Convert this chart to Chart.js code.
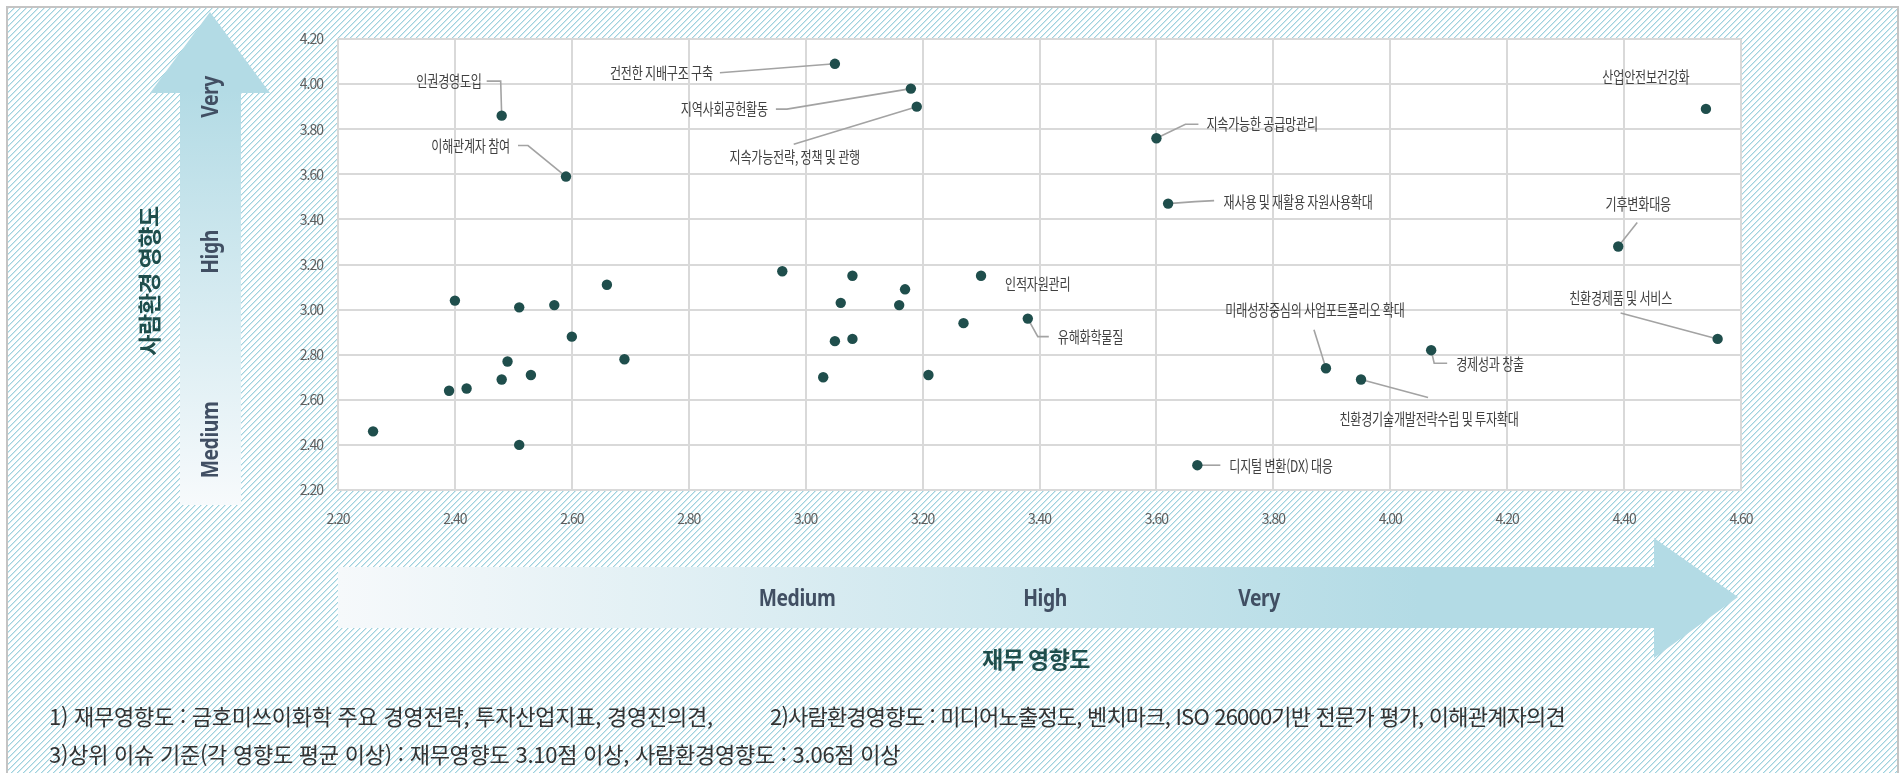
<!DOCTYPE html>
<html lang="ko">
<head>
<meta charset="utf-8">
<title>중대성 평가 결과</title>
<script src="https://cdn.jsdelivr.net/npm/chart.js@4.4.1/dist/chart.umd.min.js"></script>
<style>
  html, body { margin: 0; padding: 0; background: #fff; width: 1904px; height: 773px; overflow: hidden; }
  #frame {
    position: absolute; left: 6px; top: 6px; width: 1889px; height: 820px;
    border: 2px solid #c4c4c4; background-color: #fff;
  }
  #chart { position: absolute; left: 0; top: 0; }
  .note {
    position: absolute; font-family: "Noto Sans CJK KR", "Noto Sans", sans-serif;
    font-size: 22px; line-height: 26px; color: #333; white-space: pre; letter-spacing: -0.25px;
  }
</style>
</head>
<body>
<div id="frame"></div>
<canvas id="chart" width="1904" height="773"></canvas>
<div class="note" id="note1a" style="left:49px; top:702px;"></div>
<div class="note" id="note1b" style="left:770px; top:702px; letter-spacing:-0.8px;"></div>
<div class="note" id="note2" style="left:49px; top:740px;"></div>
<script>
// Issue names ('' = issue drawn without a name tag)
const issueNames = [
  '인권경영도입', '이해관계자 참여', '건전한 지배구조 구축', '지역사회공헌활동',
  '지속가능전략, 정책 및 관행', '지속가능한 공급망관리', '재사용 및 재활용 자원사용확대',
  '인적자원관리', '유해화학물질', '미래성장중심의 사업포트폴리오 확대',
  '친환경기술개발전략수립 및 투자확대', '경제성과 창출', '친환경제품 및 서비스',
  '디지털 변환(DX) 대응', '산업안전보건강화', '기후변화대응',
  '', '', '', '', '', '', '', '', '', '', '', '', '',
  '', '', '', '', '', '', '', '', '', ''
];
// 재무 영향도 (x)
const financialImpact = [
  2.48, 2.59, 3.05, 3.18, 3.19, 3.60, 3.62, 3.30, 3.38, 3.89, 3.95, 4.07, 4.56, 3.67, 4.54, 4.39,
  2.26, 2.40, 2.39, 2.42, 2.48, 2.49, 2.51, 2.51, 2.53, 2.57, 2.60, 2.66, 2.69,
  2.96, 3.08, 3.17, 3.06, 3.16, 3.27, 3.05, 3.08, 3.03, 3.21
];
// 사람환경 영향도 (y)
const socialImpact = [
  3.86, 3.59, 4.09, 3.98, 3.90, 3.76, 3.47, 3.15, 2.96, 2.74, 2.69, 2.82, 2.87, 2.31, 3.89, 3.28,
  2.46, 3.04, 2.64, 2.65, 2.69, 2.77, 3.01, 2.40, 2.71, 3.02, 2.88, 3.11, 2.78,
  3.17, 3.15, 3.09, 3.03, 3.02, 2.94, 2.86, 2.87, 2.70, 2.71
];
const xTickValues = [2.2, 2.4, 2.6, 2.8, 3.0, 3.2, 3.4, 3.6, 3.8, 4.0, 4.2, 4.4, 4.6];
const yTickValues = [2.2, 2.4, 2.6, 2.8, 3.0, 3.2, 3.4, 3.6, 3.8, 4.0, 4.2];
const levelLabels = ['Medium', 'High', 'Very'];
const xAxisTitle = '재무 영향도';
const yAxisTitle = '사람환경 영향도';
const footnotes = [
  '1) 재무영향도 : 금호미쓰이화학 주요 경영전략, 투자산업지표, 경영진의견,',
  '2)사람환경영향도 : 미디어노출정도, 벤치마크, ISO 26000기반 전문가 평가, 이해관계자의견',
  '3)상위 이슈 기준(각 영향도 평균 이상) : 재무영향도 3.10점 이상, 사람환경영향도 : 3.06점 이상'
];

document.getElementById('note1a').textContent = footnotes[0];
document.getElementById('note1b').textContent = footnotes[1];
document.getElementById('note2').textContent = footnotes[2];

// Diagonal hatch for the panel background, built pixel by pixel
(function () {
  const tile = document.createElement('canvas');
  tile.width = 6; tile.height = 6;
  const t = tile.getContext('2d');
  t.fillStyle = '#ffffff';
  t.fillRect(0, 0, 6, 6);
  for (let y = 0; y < 6; y++) {
    const x = (5 - y + 6) % 6;
    t.fillStyle = '#9fd2de';
    t.fillRect(x, y, 1, 1);
    t.fillStyle = '#d2eaf0';
    t.fillRect((x + 1) % 6, y, 1, 1);
  }
  document.getElementById('frame').style.backgroundImage = 'url(' + tile.toDataURL() + ')';
})();

// Name tag placement, in pixels relative to each dot; path = leader line vertices
const tagLayout = {
  '인권경영도입': { dx: -20, dy: -34.5, align: 'right', path: [[-15, -34.5], [-1, -34.5], [0, 0]] },
  '이해관계자 참여': { dx: -56, dy: -30.5, align: 'right', path: [[-48, -31], [-38, -31], [0, 0]] },
  '건전한 지배구조 구축': { dx: -122, dy: 9, align: 'right', path: [[-115, 9], [0, 0]] },
  '지역사회공헌활동': { dx: -143, dy: 20.5, align: 'right', path: [[-135, 20.5], [-124, 20.5], [0, 0]] },
  '지속가능전략, 정책 및 관행': { dx: -122, dy: 50.5, align: 'center', path: [[-123, 37.5], [0, 0]] },
  '지속가능한 공급망관리': { dx: 50, dy: -14, align: 'left', path: [[0, 0], [29, -14], [42, -14]] },
  '재사용 및 재활용 자원사용확대': { dx: 55.5, dy: -1.5, align: 'left', path: [[0, 0], [27, -2], [46, -3]] },
  '인적자원관리': { dx: 24, dy: 8, align: 'left', path: null },
  '유해화학물질': { dx: 30, dy: 18.7, align: 'left', path: [[0, 0], [10, 18], [21, 18]] },
  '미래성장중심의 사업포트폴리오 확대': { dx: -11, dy: -58, align: 'center', path: [[-12, -38.5], [0, 0]] },
  '친환경기술개발전략수립 및 투자확대': { dx: 68, dy: 40, align: 'center', path: [[0, 0], [67, 18]] },
  '경제성과 창출': { dx: 25, dy: 14, align: 'left', path: [[0, 0], [3, 13], [16, 13]] },
  '친환경제품 및 서비스': { dx: -97, dy: -41, align: 'center', path: [[-97, -26], [0, 0]] },
  '디지털 변환(DX) 대응': { dx: 32, dy: 1, align: 'left', path: [[0, 0], [23, 0]] },
  '산업안전보건강화': { dx: -60, dy: -32, align: 'center', path: null },
  '기후변화대응': { dx: 20, dy: -42, align: 'center', path: [[19, -24], [0, 0]] }
};

const KR = '"Noto Sans CJK KR", "Noto Sans", sans-serif';

function drawNarrowText(ctx, text, x, y, opts) {
  ctx.save();
  ctx.translate(x, y);
  if (opts.rotate) ctx.rotate(opts.rotate);
  ctx.scale(opts.sx || 1, 1);
  ctx.letterSpacing = opts.spacing || '0px';
  ctx.font = opts.font;
  ctx.fillStyle = opts.color;
  ctx.textAlign = opts.align || 'center';
  ctx.textBaseline = 'middle';
  ctx.fillText(text, 0, 0);
  ctx.restore();
}

// Background pieces: white plot panel and the two gradient arrows with their level words
const backdropPlugin = {
  id: 'backdrop',
  beforeDraw(chart) {
    const ctx = chart.ctx;
    const a = chart.chartArea;
    ctx.save();
    ctx.fillStyle = '#ffffff';
    ctx.fillRect(a.left, a.top, a.right - a.left, a.bottom - a.top);

    // vertical arrow (사람환경 영향도)
    let g = ctx.createLinearGradient(0, 505, 0, 90);
    g.addColorStop(0, '#f7fafc');
    g.addColorStop(1, '#b3dbe5');
    ctx.fillStyle = g;
    ctx.beginPath();
    ctx.moveTo(180, 505); ctx.lineTo(180, 93); ctx.lineTo(150, 93);
    ctx.lineTo(210, 12); ctx.lineTo(270, 93); ctx.lineTo(241, 93);
    ctx.lineTo(241, 505); ctx.closePath();
    ctx.fill();

    // horizontal arrow (재무 영향도)
    g = ctx.createLinearGradient(338, 0, 1420, 0);
    g.addColorStop(0, '#f6f9fb');
    g.addColorStop(1, '#b3dbe5');
    ctx.fillStyle = g;
    ctx.beginPath();
    ctx.moveTo(338, 567); ctx.lineTo(1654, 567); ctx.lineTo(1654, 538);
    ctx.lineTo(1738, 597); ctx.lineTo(1654, 658); ctx.lineTo(1654, 628);
    ctx.lineTo(338, 628); ctx.closePath();
    ctx.fill();
    ctx.restore();

    const levelFont = 'bold 23px "Noto Sans", sans-serif';
    const levelColor = '#414f63';
    const hx = [797, 1045, 1259];
    const vy = [440, 252, 97];
    levelLabels.forEach((t, i) => {
      drawNarrowText(ctx, t, hx[i], 599, { font: levelFont, color: levelColor, sx: 0.84, spacing: '-0.5px' });
      drawNarrowText(ctx, t, 211, vy[i], { font: levelFont, color: levelColor, sx: 0.84, spacing: '-0.5px', rotate: -Math.PI / 2 });
    });

    const titleFont = 'bold 23px ' + KR;
    drawNarrowText(ctx, xAxisTitle, 1036, 659, { font: titleFont, color: '#1f4e4c', spacing: '-0.5px' });
    drawNarrowText(ctx, yAxisTitle, 149, 281, { font: titleFont, color: '#1f4e4c', spacing: '-0.5px', rotate: -Math.PI / 2 });

    // tick labels are drawn a little tighter
    ctx.letterSpacing = '-1px';
  }
};

// Leader lines under the dots, name tags above them
const tagPlugin = {
  id: 'tags',
  beforeDatasetsDraw(chart) {
    const ctx = chart.ctx;
    const xs = chart.scales.x, ys = chart.scales.y;
    ctx.save();
    ctx.strokeStyle = '#a3a3a3';
    ctx.lineWidth = 1.6;
    issueNames.forEach((name, i) => {
      const lay = tagLayout[name];
      if (!name || !lay || !lay.path) return;
      const px = xs.getPixelForValue(financialImpact[i]);
      const py = ys.getPixelForValue(socialImpact[i]);
      ctx.beginPath();
      lay.path.forEach(([dx, dy], k) => {
        if (k === 0) ctx.moveTo(px + dx, py + dy); else ctx.lineTo(px + dx, py + dy);
      });
      ctx.stroke();
    });
    ctx.restore();
  },
  afterDatasetsDraw(chart) {
    const ctx = chart.ctx;
    const xs = chart.scales.x, ys = chart.scales.y;
    issueNames.forEach((name, i) => {
      const lay = tagLayout[name];
      if (!name || !lay) return;
      const px = xs.getPixelForValue(financialImpact[i]);
      const py = ys.getPixelForValue(socialImpact[i]);
      drawNarrowText(ctx, name, px + lay.dx, py + lay.dy, {
        font: '15.5px ' + KR, color: '#404040', sx: 0.78, align: lay.align, spacing: '-0.3px'
      });
    });
  }
};

const gridColor = '#d9d9d9';
const tickFont = { family: '"Noto Sans CJK KR", "Noto Sans", sans-serif', size: 14 };

new Chart(document.getElementById('chart').getContext('2d'), {
  type: 'scatter',
  data: {
    datasets: [{
      label: '중대성 이슈',
      data: financialImpact.map((x, i) => ({ x: x, y: socialImpact[i] })),
      pointRadius: 5.2,
      pointHoverRadius: 5.2,
      pointBackgroundColor: '#1f4e4c',
      pointBorderWidth: 0
    }]
  },
  options: {
    responsive: false,
    animation: false,
    events: [],
    layout: { padding: { left: 0, top: 39, right: 163, bottom: 243 } },
    plugins: { legend: { display: false }, tooltip: { enabled: false } },
    scales: {
      x: {
        type: 'linear', min: 2.2, max: 4.6,
        afterBuildTicks: s => { s.ticks = xTickValues.map(v => ({ value: v })); },
        afterFit: s => { s.height = 40; },
        ticks: { callback: v => Number(v).toFixed(2), font: tickFont, color: '#5f5f5f', padding: 20, maxRotation: 0, autoSkip: false },
        grid: { color: gridColor, lineWidth: 2, drawTicks: false },
        border: { color: gridColor, width: 2 }
      },
      y: {
        type: 'linear', min: 2.2, max: 4.2,
        afterBuildTicks: s => { s.ticks = yTickValues.map(v => ({ value: v })); },
        afterFit: s => { s.width = 338; },
        ticks: { callback: v => Number(v).toFixed(2), font: tickFont, color: '#5f5f5f', padding: 15, autoSkip: false },
        grid: { color: gridColor, lineWidth: 2, drawTicks: false },
        border: { color: gridColor, width: 2 }
      }
    }
  },
  plugins: [backdropPlugin, tagPlugin]
});
</script>
</body>
</html>
